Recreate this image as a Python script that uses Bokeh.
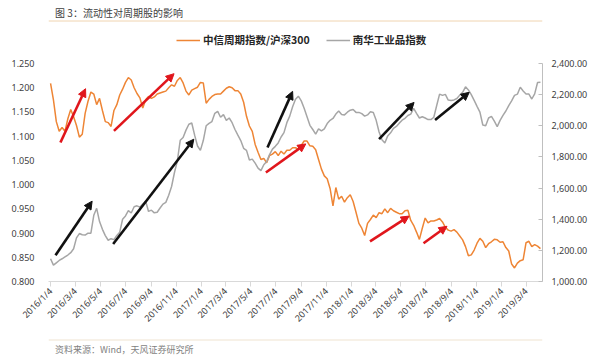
import math
import pandas as pd
from bokeh.plotting import figure
from bokeh.layouts import column
from bokeh.models import (Range1d, LinearAxis, FixedTicker, Legend, LegendItem,
                          Arrow, NormalHead, NumeralTickFormatter, ColumnDataSource)
from bokeh.core.properties import value
from bokeh.embed import file_html
from bokeh.resources import INLINE

# ---------------- data (weekly readings, starting 2016-01-04) ----------------
first_week = "2016-01-04"

cycle_vs_hs300 = [
    1.209, 1.175, 1.130, 1.110, 1.118, 1.110, 1.136, 1.155, 1.140, 1.122,
    1.098, 1.104, 1.147, 1.172, 1.191, 1.187, 1.165, 1.178, 1.153, 1.130,
    1.128, 1.120, 1.153, 1.165, 1.185, 1.197, 1.211, 1.221, 1.216, 1.200,
    1.188, 1.179, 1.158, 1.175, 1.182, 1.178, 1.181, 1.187, 1.189, 1.191,
    1.193, 1.200, 1.206, 1.203, 1.215, 1.221, 1.210, 1.193, 1.185, 1.195,
    1.198, 1.201, 1.211, 1.210, 1.168, 1.176, 1.182, 1.186, 1.187, 1.187,
    1.193, 1.199, 1.202, 1.200, 1.194, 1.194, 1.187, 1.170, 1.141, 1.121,
    1.110, 1.083, 1.067, 1.052, 1.054, 1.045, 1.060, 1.063, 1.068, 1.060,
    1.069, 1.063, 1.071, 1.071, 1.076, 1.076, 1.073, 1.081, 1.090, 1.090,
    1.080, 1.079, 1.072, 1.052, 1.032, 1.018, 1.012, 0.992, 0.956, 0.994,
    0.970, 0.976, 0.964, 0.973, 0.979, 0.965, 0.943, 0.920, 0.910, 0.895,
    0.920, 0.928, 0.937, 0.932, 0.942, 0.940, 0.950, 0.942, 0.951, 0.946,
    0.943, 0.940, 0.940, 0.946, 0.947, 0.926, 0.916, 0.902, 0.887, 0.910,
    0.931, 0.921, 0.925, 0.925, 0.927, 0.930, 0.923, 0.912, 0.906, 0.904,
    0.907, 0.902, 0.894, 0.886, 0.872, 0.853, 0.855, 0.865, 0.879, 0.889,
    0.883, 0.870, 0.878, 0.882, 0.887, 0.886, 0.881, 0.882, 0.870, 0.863,
    0.836, 0.828, 0.838, 0.843, 0.845, 0.880, 0.883, 0.872, 0.876, 0.873,
    0.868,
]

nanhua_industrial = [
    1146, 1105, 1120, 1135, 1146, 1158, 1170, 1185, 1210, 1280,
    1308, 1300, 1298, 1310, 1310, 1425, 1470, 1385, 1335, 1295,
    1265, 1275, 1269, 1296, 1317, 1400, 1421, 1455, 1440, 1480,
    1486, 1478, 1497, 1516, 1450, 1458, 1441, 1445, 1472, 1497,
    1508, 1554, 1610, 1700, 1774, 1907, 1925, 1972, 2010, 2018,
    1940, 1870, 1842, 1905, 2000, 2015, 2027, 2080, 2093, 2055,
    2072, 2035, 2050, 2020, 1976, 1940, 1905, 1855, 1842, 1780,
    1786, 1760, 1728, 1712, 1750, 1770, 1815, 1850, 1868, 1890,
    1928, 1956, 2020, 2062, 2122, 2170, 2190, 2160, 2112, 2058,
    2003, 1976, 1947, 1980, 1967, 1980, 2014, 2035, 2047, 2075,
    2095, 2073, 2070, 2087, 2100, 2105, 2086, 2086, 2078, 2062,
    2070, 2090, 2085, 2035, 1960, 1910, 1890, 1935, 1955, 1983,
    1996, 2017, 2036, 2048, 2066, 2075, 2112, 2080, 2050, 2058,
    2050, 2040, 2040, 2055, 2130, 2203, 2195, 2202, 2165, 2162,
    2166, 2175, 2197, 2215, 2250, 2230, 2200, 2163, 2125, 2088,
    2005, 2000, 2050, 2060, 2030, 1995, 2035, 2067, 2095, 2130,
    2160, 2195, 2203, 2248, 2223, 2204, 2204, 2172, 2205, 2278,
    2280,
]

left_ticks = [0.800, 0.850, 0.900, 0.950, 1.000, 1.050, 1.100, 1.150, 1.200, 1.250]
right_ticks = [1000, 1200, 1400, 1600, 1800, 2000, 2200, 2400]

tick_dates = ["2016-01-04", "2016-03-04", "2016-05-04", "2016-07-04", "2016-09-04",
              "2016-11-04", "2017-01-04", "2017-03-04", "2017-05-04", "2017-07-04",
              "2017-09-04", "2017-11-04", "2018-01-04", "2018-03-04", "2018-05-04",
              "2018-07-04", "2018-09-04", "2018-11-04", "2019-01-04", "2019-03-04"]
tick_labels = ["2016/1/4", "2016/3/4", "2016/5/4", "2016/7/4", "2016/9/4",
               "2016/11/4", "2017/1/4", "2017/3/4", "2017/5/4", "2017/7/4",
               "2017/9/4", "2017/11/4", "2018/1/4", "2018/3/4", "2018/5/4",
               "2018/7/4", "2018/9/4", "2018/11/4", "2019/1/4", "2019/3/4"]

# annotation arrows (red: left axis, black: right axis)
red_start_dates = ["2016-01-28", "2016-06-06", "2017-06-10", "2018-02-18", "2018-06-28"]
red_start_vals = [1.087, 1.111, 1.025, 0.883, 0.879]
red_end_dates = ["2016-03-29", "2016-10-30", "2017-09-15", "2018-05-24", "2018-08-24"]
red_end_vals = [1.198, 1.229, 1.084, 0.935, 0.914]

black_start_dates = ["2016-01-16", "2016-06-04", "2017-06-14", "2018-03-12", "2018-07-26"]
black_start_vals = [1168, 1241, 1860, 1914, 2037]
black_end_dates = ["2016-04-14", "2016-12-17", "2017-08-14", "2018-06-05", "2018-10-17"]
black_end_vals = [1516, 1914, 2221, 2150, 2215]

title_text = "图 3：流动性对周期股的影响"
source_text = "资料来源：Wind，天风证券研究所"
name_cycle = "中信周期指数/沪深300"
name_nanhua = "南华工业品指数"

# ---------------- styling ----------------
ORANGE = "#EE8535"
GRAY = "#A6A6A6"
RED = "#E0161C"
BLACK = "#111111"
CJK = "Noto Sans CJK SC"
NUM = "Noto Sans"

W = 600
HEAD_H, MAIN_H, FOOT_H = 26, 310, 23
FRAME_TOP, FRAME_BOTTOM = 4, 55          # borders inside main figure
AXIS_TOP_PX = 33                         # gap between frame top and the 1.250 / 2,400 level
frame_h = MAIN_H - FRAME_TOP - FRAME_BOTTOM
plot_h = frame_h - AXIS_TOP_PX

def headroom(lo, hi):
    return hi + (hi - lo) * AXIS_TOP_PX / plot_h

# ---------------- header ----------------
head = figure(width=W, height=HEAD_H, x_range=Range1d(0, W), y_range=Range1d(0, HEAD_H),
              output_backend="svg", toolbar_location=None, tools="",
              min_border=0, outline_line_color=None)
head.axis.visible = False
head.grid.visible = False
head.text(x=[8], y=[HEAD_H - 12], text=[title_text], text_font=value(CJK),
          text_font_size="10px", text_color="#404040", text_baseline="middle")
head.line(x=[0, W], y=[HEAD_H - 20.5, HEAD_H - 20.5], line_color="#F0D4B0", line_width=1)

# ---------------- main chart ----------------
dates = pd.date_range(first_week, periods=len(cycle_vs_hs300), freq="7D")

p = figure(width=W, height=MAIN_H, x_axis_type="datetime", output_backend="svg",
           toolbar_location=None, tools="",
           x_range=Range1d(pd.Timestamp("2015-12-30"), pd.Timestamp("2019-04-13")),
           y_range=Range1d(left_ticks[0], headroom(left_ticks[0], left_ticks[-1])),
           min_border_left=48, min_border_right=58,
           min_border_top=FRAME_TOP, min_border_bottom=FRAME_BOTTOM)
p.extra_y_ranges = {"right": Range1d(right_ticks[0], headroom(right_ticks[0], right_ticks[-1]))}
p.outline_line_color = None
p.xgrid.visible = False
p.ygrid.visible = False

ly = p.yaxis[0]
ly.ticker = FixedTicker(ticks=left_ticks)
ly.formatter = NumeralTickFormatter(format="0.000")
ly.axis_line_color = None
ly.major_tick_line_color = None
ly.minor_tick_line_color = None
ly.major_label_standoff = 8
ly.major_label_text_font = NUM
ly.major_label_text_font_size = "9px"
ly.major_label_text_color = "#404040"

ry = LinearAxis(y_range_name="right", ticker=FixedTicker(ticks=right_ticks),
                formatter=NumeralTickFormatter(format="0,0.00"),
                bounds=(right_ticks[0], right_ticks[-1]))
ry.axis_line_color = "#BFBFBF"
ry.major_tick_line_color = "#BFBFBF"
ry.major_tick_in = 4
ry.major_tick_out = 0
ry.minor_tick_line_color = None
ry.major_label_standoff = 9
ry.major_label_text_font = NUM
ry.major_label_text_font_size = "9px"
ry.major_label_text_color = "#404040"
p.add_layout(ry, "right")

tick_ms = [(pd.Timestamp(d) - pd.Timestamp("1970-01-01")) // pd.Timedelta("1ms") for d in tick_dates]
xa = p.xaxis[0]
xa.ticker = FixedTicker(ticks=tick_ms)
xa.major_label_overrides = {int(t): lab for t, lab in zip(tick_ms, tick_labels)}
xa.major_label_orientation = math.pi / 4
xa.axis_line_color = "#D9D9D9"
xa.major_tick_line_color = "#D9D9D9"
xa.major_tick_in = 0
xa.major_tick_out = 5
xa.minor_tick_line_color = None
xa.major_label_standoff = 3
xa.major_label_text_font = NUM
xa.major_label_text_font_size = "9px"
xa.major_label_text_color = "#404040"

src = ColumnDataSource(dict(date=dates, cyc=cycle_vs_hs300, nh=nanhua_industrial))
r1 = p.line("date", "cyc", source=src, line_color=ORANGE, line_width=1.5)
r2 = p.line("date", "nh", source=src, line_color=GRAY, line_width=1.5, y_range_name="right")

red_src = ColumnDataSource(dict(x0=pd.to_datetime(red_start_dates), y0=red_start_vals,
                                x1=pd.to_datetime(red_end_dates), y1=red_end_vals))
black_src = ColumnDataSource(dict(x0=pd.to_datetime(black_start_dates), y0=black_start_vals,
                                  x1=pd.to_datetime(black_end_dates), y1=black_end_vals))
p.add_layout(Arrow(source=red_src, x_start="x0", y_start="y0", x_end="x1", y_end="y1",
                   line_color=RED, line_width=2.6,
                   end=NormalHead(size=8, fill_color=RED, line_color=RED)))
p.add_layout(Arrow(source=black_src, x_start="x0", y_start="y0", x_end="x1", y_end="y1",
                   line_color=BLACK, line_width=2.6, y_range_name="right",
                   end=NormalHead(size=8, fill_color=BLACK, line_color=BLACK)))

legend = Legend(items=[LegendItem(label=name_cycle, renderers=[r1]),
                       LegendItem(label=name_nanhua, renderers=[r2])],
                orientation="horizontal", location=(128, frame_h - 17),
                label_text_font=CJK, label_text_font_size="10.5px", label_text_font_style="bold",
                label_text_color="#262626", glyph_width=24, glyph_height=14, label_height=14,
                label_standoff=3, spacing=16, padding=0, margin=0,
                border_line_color=None, background_fill_alpha=0)
p.add_layout(legend)

# ---------------- footer ----------------
foot = figure(width=W, height=FOOT_H, x_range=Range1d(0, W), y_range=Range1d(0, FOOT_H),
              output_backend="svg", toolbar_location=None, tools="",
              min_border=0, outline_line_color=None)
foot.axis.visible = False
foot.grid.visible = False
foot.line(x=[0, W], y=[FOOT_H - 3.5, FOOT_H - 3.5], line_color="#EFE3D0", line_width=1)
foot.text(x=[8], y=[FOOT_H - 13], text=[source_text], text_font=value(CJK),
          text_font_size="9px", text_color="#7F7F7F", text_baseline="middle")

layout = column(head, p, foot, spacing=0)
open("out.html", "w").write(file_html(layout, INLINE))
